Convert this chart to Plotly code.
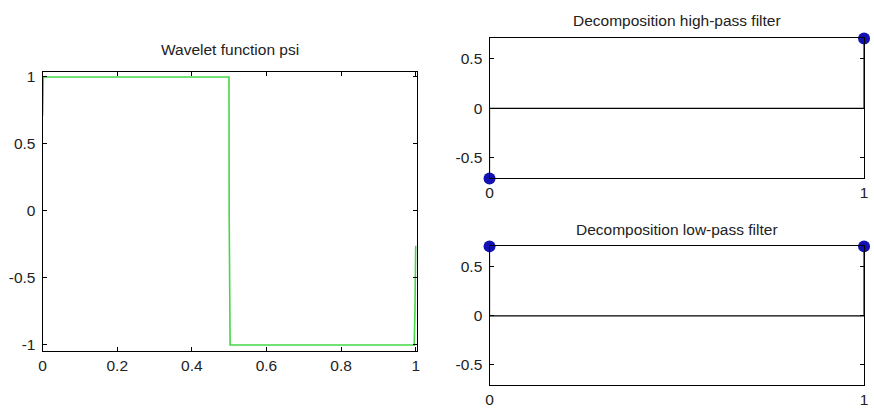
import plotly.graph_objects as go

# Wavelet function psi (Haar), breakpoints
psi_x = [0.0, 0.002, 0.4995, 0.5, 0.5025, 0.996, 0.998, 1.0]
psi_y = [0.71, 1.0, 1.0, 0.0, -1.0, -1.0, -0.75, -0.26]

# Decomposition filters
hp_x = [0, 1]
hp_y = [-0.7071, 0.7071]
lp_x = [0, 1]
lp_y = [0.7071, 0.7071]

psi_xticks = [0, 0.2, 0.4, 0.6, 0.8, 1]
psi_xtext = ["0", "0.2", "0.4", "0.6", "0.8", "1"]
psi_yticks = [-1, -0.5, 0, 0.5, 1]
psi_ytext = ["-1", "-0.5", "0", "0.5", "1"]
filt_xticks = [0, 1]
filt_xtext = ["0", "1"]
filt_yticks = [-0.5, 0, 0.5]
filt_ytext = ["-0.5", "0", "0.5"]

W, H = 874, 408
FONT = dict(family="Liberation Sans, Arial, sans-serif", size=15.5, color="#222")
GREEN = "rgb(70,215,70)"
BLUE = "#1212b4"

fig = go.Figure()

fig.add_trace(go.Scatter(x=psi_x, y=psi_y, mode="lines",
                         line=dict(color=GREEN, width=1.6),
                         xaxis="x", yaxis="y", showlegend=False, cliponaxis=False))

for xs, ys, ax, ay in [(hp_x, hp_y, "x2", "y2"), (lp_x, lp_y, "x3", "y3")]:
    # baseline
    fig.add_trace(go.Scatter(x=[min(xs), max(xs)], y=[0, 0], mode="lines",
                             line=dict(color="black", width=1.2),
                             xaxis=ax, yaxis=ay, showlegend=False))
    # stems
    for xv, yv in zip(xs, ys):
        fig.add_trace(go.Scatter(x=[xv, xv], y=[0, yv], mode="lines",
                                 line=dict(color="black", width=1.2),
                                 xaxis=ax, yaxis=ay, showlegend=False, cliponaxis=False))
    fig.add_trace(go.Scatter(x=xs, y=ys, mode="markers",
                             marker=dict(color=BLUE, size=12, line=dict(width=0)),
                             xaxis=ax, yaxis=ay, showlegend=False, cliponaxis=False))

def axis_common(standoff=0):
    d = dict(showline=True, linecolor="black", linewidth=1.2, mirror="ticks",
             ticks="inside", ticklen=4, tickcolor="black", tickwidth=1,
             showgrid=False, zeroline=False, tickfont=FONT, fixedrange=True)
    if standoff:
        d["ticklabelstandoff"] = standoff
    return d

def px_dom_x(a, b):
    return [a / W, b / W]

def px_dom_y(top, bottom):
    return [1 - bottom / H, 1 - top / H]

fig.update_layout(
    width=W, height=H, margin=dict(l=0, r=0, t=0, b=0),
    paper_bgcolor="white", plot_bgcolor="white",
    xaxis=dict(domain=px_dom_x(39, 417), range=[0, 1.004], anchor="y",
               tickmode="array", tickvals=psi_xticks, ticktext=psi_xtext, **axis_common()),
    yaxis=dict(domain=px_dom_y(69, 352), range=[-1.044, 1.037], anchor="x",
               tickmode="array", tickvals=psi_yticks, ticktext=psi_ytext, **axis_common(3)),
    xaxis2=dict(domain=px_dom_x(490, 868), range=[0, 1], anchor="y2",
                tickmode="array", tickvals=filt_xticks, ticktext=filt_xtext, **axis_common()),
    yaxis2=dict(domain=px_dom_y(35, 177), range=[-0.7071, 0.7071], anchor="x2",
                tickmode="array", tickvals=filt_yticks, ticktext=filt_ytext, **axis_common(3)),
    xaxis3=dict(domain=px_dom_x(490, 868), range=[0, 1], anchor="y3",
                tickmode="array", tickvals=filt_xticks, ticktext=filt_xtext, **axis_common()),
    yaxis3=dict(domain=px_dom_y(246, 387), range=[-0.7071, 0.7071], anchor="x3",
                tickmode="array", tickvals=filt_yticks, ticktext=filt_ytext, **axis_common(3)),
)

titles = [("Wavelet function psi", (39 + 417) / 2, 46),
          ("Decomposition high-pass filter", (490 + 868) / 2, 17),
          ("Decomposition low-pass filter", (490 + 868) / 2, 229)]
for txt, cx, cy in titles:
    fig.add_annotation(text=txt, x=cx / W, y=1 - cy / H, xref="paper", yref="paper",
                       showarrow=False, font=FONT, xanchor="center", yanchor="middle")

fig.write_html("out.html")
